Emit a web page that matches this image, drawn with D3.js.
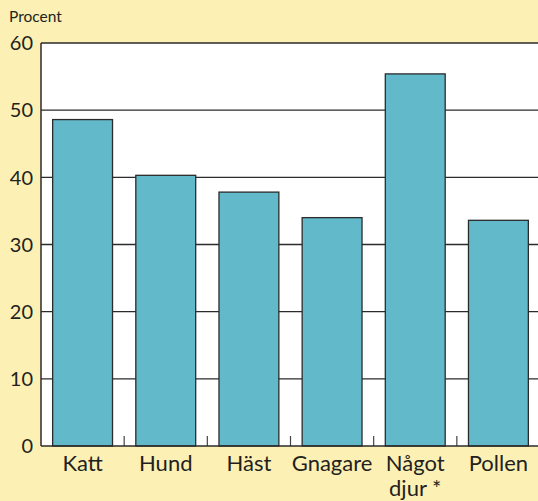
<!DOCTYPE html>
<html>
<head>
<meta charset="utf-8">
<script src="https://cdn.jsdelivr.net/npm/d3@7"></script>
<style>
  body { margin: 0; background: #fcf0b4; }
  svg { display: block; }
  text { font-family: Lato, "Open Sans", sans-serif; fill: #231f20; }
</style>
</head>
<body>
<svg id="chart" width="538" height="501"></svg>
<script>
const categories = ['Katt', 'Hund', 'Häst', 'Gnagare', 'Något djur *', 'Pollen']
const values = [48.6, 40.3, 37.8, 34.0, 55.4, 33.6]
const yTicks = [0, 10, 20, 30, 40, 50, 60]

const svg = d3.select('#chart')
const plotLeft = 41, plotTop = 43, plotBottom = 446, plotRight = 540

svg.append('rect')
    .attr('width', 538).attr('height', 501)
    .attr('fill', '#fcf0b4')

let x = d3.scaleBand()
    .domain(categories)
    .range([plotLeft, plotRight])
    .paddingInner(0.28)
    .paddingOuter(0.14)

let y = d3.scaleLinear()
    .domain([0, 60])
    .range([plotBottom, plotTop])

// white plot area
svg.append('rect')
    .attr('x', plotLeft).attr('y', plotTop)
    .attr('width', 538 - plotLeft).attr('height', plotBottom - plotTop)
    .attr('fill', '#fff')

// grid lines
svg.append('g')
    .selectAll('line')
    .data(yTicks.filter(d => d > 0))
    .enter()
    .append('line')
    .attr('x1', plotLeft).attr('x2', 538)
    .attr('y1', d => y(d)).attr('y2', d => y(d))
    .attr('stroke', '#2b2b2b')
    .attr('stroke-width', 1.3)

// separator ticks between bars
svg.append('g')
    .selectAll('line')
    .data(categories.slice(1))
    .enter()
    .append('line')
    .attr('x1', d => x(d) - x.step() * x.paddingInner() / 2)
    .attr('x2', d => x(d) - x.step() * x.paddingInner() / 2)
    .attr('y1', plotBottom - 10).attr('y2', plotBottom)
    .attr('stroke', '#444')
    .attr('stroke-width', 1.2)

// bars
svg.append('g')
    .selectAll('rect')
    .data(values)
    .enter()
    .append('rect')
    .attr('x', (d, i) => x(categories[i]))
    .attr('y', d => y(d))
    .attr('width', x.bandwidth())
    .attr('height', d => plotBottom - y(d))
    .attr('fill', '#62b9ca')
    .attr('stroke', '#2b2b2b')
    .attr('stroke-width', 1.3)

// axes lines
svg.append('line')
    .attr('x1', plotLeft).attr('x2', plotLeft)
    .attr('y1', plotTop).attr('y2', plotBottom)
    .attr('stroke', '#2b2b2b').attr('stroke-width', 1.5)
svg.append('line')
    .attr('x1', plotLeft).attr('x2', 538)
    .attr('y1', plotBottom).attr('y2', plotBottom)
    .attr('stroke', '#2b2b2b').attr('stroke-width', 1.5)

// y tick labels
svg.append('g')
    .selectAll('text')
    .data(yTicks)
    .enter()
    .append('text')
    .attr('x', 33)
    .attr('y', d => y(d))
    .attr('dy', '0.36em')
    .attr('text-anchor', 'end')
    .style('font-size', '20px')
    .text(d => d)

svg.append('text')
    .attr('x', 9).attr('y', 22)
    .style('font-size', '15.5px')
    .text('Procent')

// category labels
svg.append('g')
    .selectAll('text')
    .data(categories)
    .enter()
    .append('text')
    .attr('x', d => x(d) + x.bandwidth() / 2)
    .attr('y', 471)
    .attr('text-anchor', 'middle')
    .style('font-size', '22px')
    .each(function (d) {
        let parts = d === 'Något djur *' ? ['Något', 'djur *'] : [d]
        d3.select(this).selectAll('tspan')
            .data(parts)
            .enter()
            .append('tspan')
            .attr('x', x(d) + x.bandwidth() / 2)
            .attr('dy', (p, i) => i === 0 ? 0 : 25)
            .text(p => p)
    })
</script>
</body>
</html>
